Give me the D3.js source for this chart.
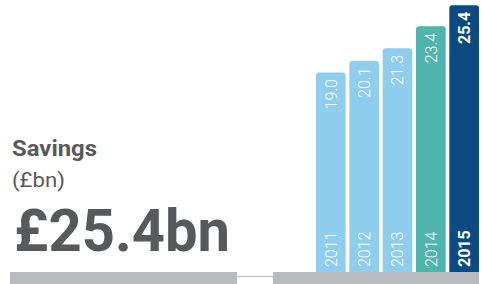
<!DOCTYPE html>
<html>
<head>
<meta charset="utf-8">
<script src="https://cdn.jsdelivr.net/npm/d3@7"></script>
<style>
  body { margin: 0; background: #fff; }
  svg { display: block; font-family: Roboto, "Noto Sans", sans-serif; }
</style>
</head>
<body>
<div id="chart"></div>
<script>
const years = ["2011", "2012", "2013", "2014", "2015"];
const savings = [19.0, 20.1, 21.3, 23.4, 25.4];
const barColors = ["#8ecdee", "#8ecdee", "#8ecdee", "#4fb3ae", "#0b4a80"];

const width = 482, height = 284;
const base = 272;

const svg = d3.select("#chart")
  .append("svg")
  .attr("width", width)
  .attr("height", height);

const x = d3.scaleBand()
  .domain(years)
  .range([316, 479])
  .paddingInner(0.11)
  .paddingOuter(0);

const y = d3.scaleLinear()
  .domain([0, 25.4])
  .range([base, 5.3]);

// bar with rounded top corners
function barPath(x0, y0, w, h, r) {
  return `M${x0},${y0 + h}V${y0 + r}Q${x0},${y0} ${x0 + r},${y0}` +
    `H${x0 + w - r}Q${x0 + w},${y0} ${x0 + w},${y0 + r}V${y0 + h}Z`;
}

const data = years.map((yr, i) => ({year: yr, value: savings[i], color: barColors[i], last: i === years.length - 1}));

svg.selectAll(".bar")
  .data(data)
  .enter()
  .append("path")
  .attr("class", "bar")
  .attr("fill", d => d.color)
  .attr("d", d => barPath(x(d.year), y(d.value), x.bandwidth(), base - y(d.value), 3));

const fs = 16;
// value labels at top
svg.selectAll(".val")
  .data(data)
  .enter()
  .append("text")
  .attr("class", "val")
  .attr("transform", d => `translate(${x(d.year) + x.bandwidth() / 2 + fs * 0.36},${y(d.value) + 6.5}) rotate(-90)`)
  .attr("text-anchor", "end")
  .attr("fill", "#fff")
  .style("font-size", fs + "px")
  .style("font-weight", d => d.last ? 700 : 300)
  .text(d => d.value.toFixed(1));

// year labels at bottom
svg.selectAll(".yr")
  .data(data)
  .enter()
  .append("text")
  .attr("class", "yr")
  .attr("transform", d => `translate(${x(d.year) + x.bandwidth() / 2 + fs * 0.36},${base - 5}) rotate(-90)`)
  .attr("text-anchor", "start")
  .attr("fill", "#fff")
  .style("font-size", fs + "px")
  .style("font-weight", d => d.last ? 700 : 300)
  .text(d => d.year);

// bottom rules
svg.append("rect").attr("x", 10).attr("y", base).attr("width", 227).attr("height", 12).attr("fill", "#b9babd");
svg.append("line").attr("x1", 237).attr("x2", 273).attr("y1", 276.5).attr("y2", 276.5)
  .attr("stroke", "#c9cacc").attr("stroke-width", 1.5);
svg.append("rect").attr("x", 273).attr("y", base).attr("width", 206).attr("height", 12).attr("fill", "#b9babd");

// title block
svg.append("text")
  .attr("x", 12).attr("y", 156)
  .attr("fill", "#58595b")
  .attr("textLength", 85).attr("lengthAdjust", "spacingAndGlyphs")
  .style("font-size", "22px").style("font-weight", 700)
  .text("Savings");

svg.append("text")
  .attr("x", 12).attr("y", 187)
  .attr("fill", "#58595b")
  .attr("textLength", 53).attr("lengthAdjust", "spacingAndGlyphs")
  .style("font-size", "20px").style("font-weight", 400)
  .text("(£bn)");

svg.append("text")
  .attr("x", 14).attr("y", 251)
  .attr("fill", "#58595b")
  .attr("textLength", 216).attr("lengthAdjust", "spacingAndGlyphs")
  .style("font-size", "59px").style("font-weight", 700)
  .text("£" + savings[savings.length - 1].toFixed(1) + "bn");
</script>
</body>
</html>
